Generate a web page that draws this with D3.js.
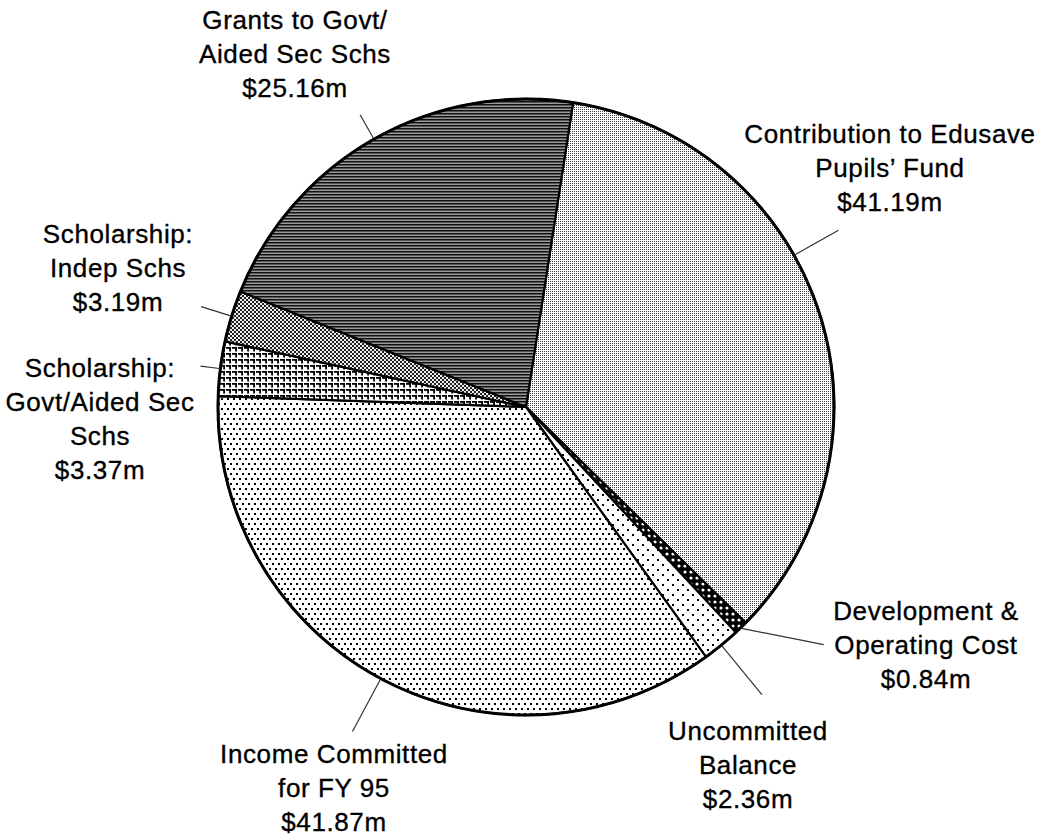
<!DOCTYPE html>
<html>
<head>
<meta charset="utf-8">
<script src="https://cdn.jsdelivr.net/npm/d3@7"></script>
<style>
  body { margin: 0; background: #fff; }
  text { font-family: "Liberation Sans", Arial, Helvetica, sans-serif; fill: #000; stroke: #000; stroke-width: 0.35px; }
</style>
</head>
<body>
<div id="chart"></div>
<script>
// slice order clockwise, starting just right of 12 o'clock
const categories = [
  ["Contribution to Edusave", "Pupils\u2019 Fund"],
  ["Development &", "Operating Cost"],
  ["Uncommitted", "Balance"],
  ["Income Committed", "for FY 95"],
  ["Scholarship:", "Govt/Aided Sec", "Schs"],
  ["Scholarship:", "Indep Schs"],
  ["Grants to Govt/", "Aided Sec Schs"]
];
const values = [41.19, 0.84, 2.36, 41.87, 3.37, 3.19, 25.16];
const valueLabels = ["$41.19m", "$0.84m", "$2.36m", "$41.87m", "$3.37m", "$3.19m", "$25.16m"];

const width = 1046, height = 839;
const cx = 526, cy = 407, radius = 308;
const startDeg = 8.8;

// label text anchors and leader line ends (polar, degrees clockwise from north)
const labelPos = [
  { x: 890, y: 143, angle: 60.5, endR: 359 },
  { x: 926, y: 620, endR: 381, endAngle: 128.6 },
  { x: 748, y: 740, endR: 372 },
  { x: 334, y: 763, endR: 368 },
  { x: 100, y: 377, endR: 328 },
  { x: 118, y: 243, endR: 340 },
  { x: 295, y: 29, endR: 336 }
];
const lineHeight = 34;

const svg = d3.select('#chart')
  .append('svg')
  .attr('width', width)
  .attr('height', height);

svg.append('rect').attr('width', width).attr('height', height).attr('fill', '#fff');

const defs = svg.append('defs');

function pattern(id, w, h, bg) {
  const p = defs.append('pattern')
    .attr('id', id)
    .attr('patternUnits', 'userSpaceOnUse')
    .attr('width', w)
    .attr('height', h);
  p.append('rect').attr('width', w).attr('height', h).attr('fill', bg);
  return p;
}

// Contribution: fine light stipple
const pContrib = pattern('p-contrib', 2, 2, '#fff');
pContrib.append('rect').attr('x', 0).attr('y', 0).attr('width', 1).attr('height', 1).attr('fill', '#444');

// Development: black with white dots
const pDev = pattern('p-dev', 6, 6, '#000');
pDev.append('circle').attr('cx', 3).attr('cy', 3).attr('r', 1.6).attr('fill', '#fff');

// Uncommitted: sparse dots
const pUnc = pattern('p-unc', 10, 10, '#fff');
pUnc.append('rect').attr('x', 1).attr('y', 2).attr('width', 2).attr('height', 2).attr('fill', '#000');
pUnc.append('rect').attr('x', 6).attr('y', 7).attr('width', 2).attr('height', 2).attr('fill', '#000');

// Income: regular staggered dots
const pInc = pattern('p-inc', 6, 10, '#fff');
pInc.append('rect').attr('x', 1).attr('y', 1).attr('width', 2).attr('height', 2).attr('fill', '#000');
pInc.append('rect').attr('x', 4).attr('y', 6).attr('width', 2).attr('height', 2).attr('fill', '#000');

// Scholarship Govt: grid of corner marks
const pGovt = pattern('p-govt', 6, 6, '#fff');
pGovt.append('rect').attr('x', 0).attr('y', 0).attr('width', 5).attr('height', 1.8).attr('fill', '#000');
pGovt.append('rect').attr('x', 3.2).attr('y', 0).attr('width', 1.8).attr('height', 4.5).attr('fill', '#000');

// Scholarship Indep: checker
const pIndep = pattern('p-indep', 4, 4, '#eee');
pIndep.append('rect').attr('x', 0).attr('y', 0).attr('width', 2).attr('height', 2).attr('fill', '#222');
pIndep.append('rect').attr('x', 2).attr('y', 2).attr('width', 2).attr('height', 2).attr('fill', '#222');

// Grants: dark horizontal lines
const pGrants = pattern('p-grants', 4, 3, '#999');
pGrants.append('rect').attr('x', 0).attr('y', 0).attr('width', 4).attr('height', 1).attr('fill', '#111');
pGrants.append('rect').attr('x', 0).attr('y', 1).attr('width', 4).attr('height', 1).attr('fill', '#555');

const fills = ['url(#p-contrib)', 'url(#p-dev)', 'url(#p-unc)', 'url(#p-inc)',
  'url(#p-govt)', 'url(#p-indep)', 'url(#p-grants)'];

const toRad = d => d * Math.PI / 180;

const pie = d3.pie()
  .sort(null)
  .value(d => d)
  .startAngle(toRad(startDeg))
  .endAngle(toRad(startDeg) + 2 * Math.PI);

const arc = d3.arc()
  .innerRadius(0)
  .outerRadius(radius);

const arcsData = pie(values);

const g = svg.append('g')
  .attr('transform', `translate(${cx},${cy})`);

g.selectAll('path.slice')
  .data(arcsData)
  .enter()
  .append('path')
  .attr('class', 'slice')
  .attr('d', arc)
  .attr('fill', (d, i) => fills[i])
  .attr('stroke', '#000')
  .attr('stroke-width', 2.2)
  .attr('stroke-linejoin', 'round');

g.append('circle')
  .attr('r', radius)
  .attr('fill', 'none')
  .attr('stroke', '#000')
  .attr('stroke-width', 3);

// leader lines
const polar = (deg, r) => [Math.sin(toRad(deg)) * r, -Math.cos(toRad(deg)) * r];

g.selectAll('line.leader')
  .data(arcsData)
  .enter()
  .append('line')
  .attr('class', 'leader')
  .each(function (d, i) {
    const lp = labelPos[i];
    const a = lp.angle != null ? lp.angle : ((d.startAngle + d.endAngle) / 2) * 180 / Math.PI;
    const [x1, y1] = polar(a, radius + 1);
    const [x2, y2] = polar(lp.endAngle != null ? lp.endAngle : a, lp.endR);
    d3.select(this)
      .attr('x1', x1).attr('y1', y1)
      .attr('x2', x2).attr('y2', y2);
  })
  .attr('stroke', '#333')
  .attr('stroke-width', 1.2);

// labels
const labels = svg.selectAll('text.label')
  .data(arcsData)
  .enter()
  .append('text')
  .attr('class', 'label')
  .attr('text-anchor', 'middle')
  .attr('font-size', '26px')
  .attr('letter-spacing', '0.6px')
  .attr('x', (d, i) => labelPos[i].x)
  .attr('y', (d, i) => labelPos[i].y);

labels.each(function (d, i) {
  const lines = categories[i].concat([valueLabels[i]]);
  d3.select(this).selectAll('tspan')
    .data(lines)
    .enter()
    .append('tspan')
    .attr('x', labelPos[i].x)
    .attr('dy', (t, j) => j === 0 ? 0 : lineHeight)
    .text(t => t);
});
</script>
</body>
</html>
